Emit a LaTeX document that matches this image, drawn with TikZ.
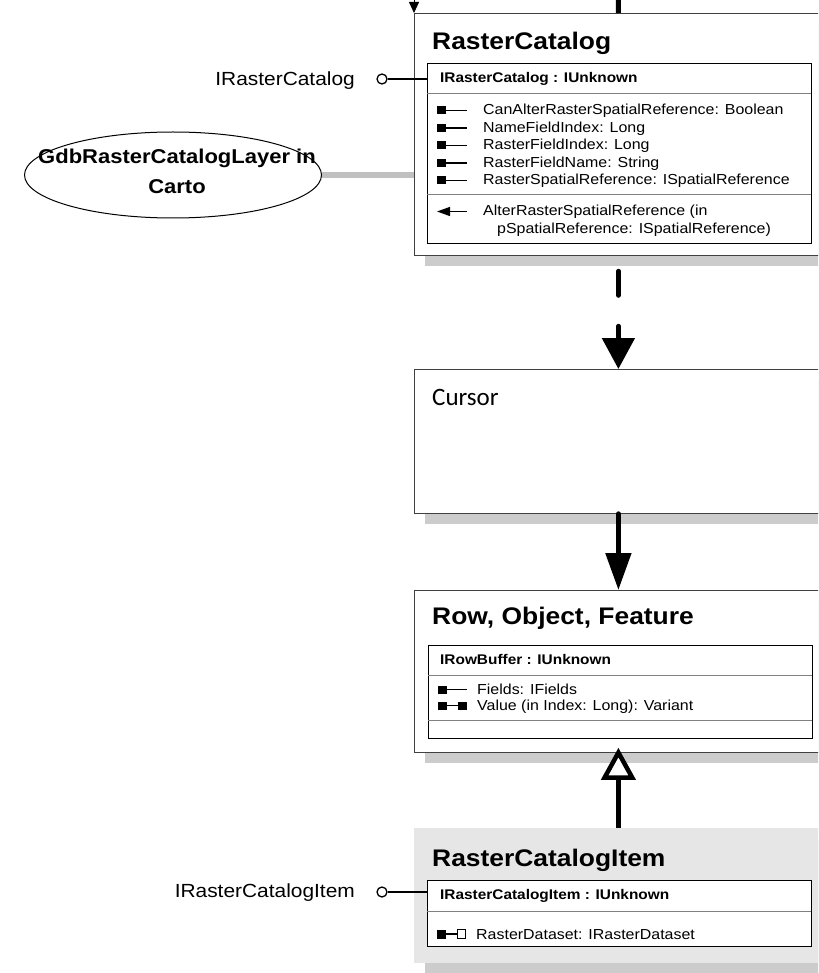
\documentclass[tikz,border=0pt]{standalone}
\usepackage{fontspec}
\setmainfont{Liberation Sans}[FakeStretch=1.1]
\newfontfamily\carlito{Carlito}
\usetikzlibrary{arrows.meta,shapes.geometric,shadows}
\definecolor{shadowgray}{RGB}{204,204,204}
\definecolor{itemgray}{RGB}{230,230,230}
\definecolor{linkgray}{RGB}{192,192,192}
\definecolor{sepgray}{RGB}{128,128,128}

\begin{document}
\begin{tikzpicture}[x=1pt,y=-1pt,
  classbox/.style={draw=black!75, line width=0.8pt, fill=white, anchor=north west,
    minimum width=408pt, inner sep=0pt,
    drop shadow={shadow xshift=11pt, shadow yshift=-11pt, fill=shadowgray, opacity=1}},
  ifcbox/.style={draw=black, line width=1.4pt, fill=white, anchor=north west,
    minimum width=384pt, inner sep=0pt},
  title/.style={font=\bfseries\fontsize{24}{28}\selectfont, anchor=base west, inner sep=0pt},
  ifchead/.style={font=\bfseries\fontsize{14}{16}\selectfont, anchor=base west, inner sep=0pt},
  member/.style={font=\fontsize{14.5}{16}\selectfont, anchor=base west, inner sep=0pt},
  lollylabel/.style={font=\fontsize{19}{22}\selectfont, anchor=base east, inner sep=0pt},
  lolly/.style={circle, draw, line width=1.3pt, minimum size=10pt, inner sep=0pt, fill=white},
  sep/.style={draw=sepgray, line width=1pt},
  icon/.style={line width=1.3pt},
  flow/.style={line width=5pt, line cap=round},
]
  \useasboundingbox (0,0) rectangle (818,973);
  \clip (0,0) rectangle (818,973);

  % Class boxes
  \node[classbox, minimum height=242pt] (rc) at (414,13) {};
  \node[classbox, minimum height=144pt] (cur) at (414,369) {};
  \node[classbox, minimum height=162pt] (row) at (414,590) {};
  \node[classbox, draw=none, fill=itemgray, minimum height=135pt] (item) at (414,828) {};

  % RasterCatalog
  \node[title] (rctitle) at (432,50) {RasterCatalog};
  \node[ifcbox, minimum height=180pt] (rcif) at (427,63) {};
  \draw[sep] (427,94) -- (811,94);
  \draw[sep] (427,195) -- (811,195);
  \node[ifchead] (rchead) at (440,83) {IRasterCatalog : IUnknown};
  \fill (437,106.5) rectangle (446,114.5); \draw[icon] (446,110.5) -- (467,110.5);
  \fill (437,124) rectangle (446,132); \draw[icon] (446,128) -- (467,128);
  \fill (437,141.5) rectangle (446,149.5); \draw[icon] (446,145.5) -- (467,145.5);
  \fill (437,159) rectangle (446,167); \draw[icon] (446,163) -- (467,163);
  \fill (437,176.5) rectangle (446,184.5); \draw[icon] (446,180.5) -- (467,180.5);
  \node[member] (m1) at (483,115) {CanAlterRasterSpatialReference: Boolean};
  \node[member] (m2) at (483,132.5) {NameFieldIndex: Long};
  \node[member] (m3) at (483,150) {RasterFieldIndex: Long};
  \node[member] (m4) at (483,167.5) {RasterFieldName: String};
  \node[member] (m5) at (483,185) {RasterSpatialReference: ISpatialReference};
  \draw[icon, -{Triangle[width=9pt,length=13pt]}] (467,211.5) -- (437,211.5);
  \node[member] (m6) at (483,216) {AlterRasterSpatialReference (in};
  \node[member] (m7) at (497,233.5) {pSpatialReference: ISpatialReference)};

  \node[lollylabel] (rclab) at (355,86) {IRasterCatalog};
  \node[lolly] (rcdot) at (382,79) {};
  \draw[icon] (rcdot) -- (rcdot -| rcif.west);

  % layer in Carto
  \node[draw, ellipse, line width=1pt, minimum width=297pt, minimum height=86pt,
    inner sep=0pt] (layer) at (173,175) {};
  \node[font=\bfseries\fontsize{20}{30}\selectfont, align=center, anchor=base,
    inner sep=0pt] (layertext) at (177,194) {GdbRasterCatalogLayer in\\Carto};
  \draw[linkgray, line width=6pt] (layer.east) -- (layer.east -| rc.west);

  % Cursor
  \node[font=\carlito\fontsize{25}{30}\selectfont, anchor=base west, inner sep=0pt]
    (curtitle) at (432,405) {Cursor};

  % Row, Object, Feature
  \node[title] (rowtitle) at (432,624) {Row, Object, Feature};
  \node[ifcbox, minimum height=93pt] (rowif) at (428,645) {};
  \draw[sep] (428,675) -- (812,675);
  \draw[sep] (428,720) -- (812,720);
  \node[ifchead] (rowhead) at (440,664) {IRowBuffer : IUnknown};
  \fill (438,685.5) rectangle (447,693.5); \draw[icon] (447,689.5) -- (467,689.5);
  \fill (438,701.5) rectangle (447,709.5); \draw[icon] (447,705.5) -- (458,705.5);
  \fill (458,701.5) rectangle (467,709.5);
  \node[member] (f1) at (477,694) {Fields: IFields};
  \node[member] (f2) at (477,710) {Value (in Index: Long): Variant};

  % RasterCatalogItem
  \node[title] (itemtitle) at (432,866) {RasterCatalogItem};
  \node[ifcbox, minimum height=66pt] (itemif) at (427,880) {};
  \draw[sep] (427,911) -- (811,911);
  \node[ifchead] (itemhead) at (440,899) {IRasterCatalogItem : IUnknown};
  \fill (437,929.5) rectangle (446,938.5); \draw[icon] (446,934) -- (457,934);
  \draw[line width=1pt, fill=white] (457.5,929.5) rectangle (465.5,938.5);
  \node[member] (d1) at (476,939) {RasterDataset: IRasterDataset};

  \node[lollylabel] (itemlab) at (355,897) {IRasterCatalogItem};
  \node[lolly] (itemdot) at (382,892) {};
  \draw[icon] (itemdot) -- (itemdot -| itemif.west);

  % Connectors
  \coordinate (topin) at (618,-30);
  \coordinate (cornerin) at (414,-30);
  \draw[line width=5pt] (topin) -- (rc.north);
  \draw[line width=0.8pt, -{Triangle[width=10pt,length=11pt]}] (cornerin) -- (rc.north west);
  \draw[flow, dash pattern=on 24pt off 31pt, dash phase=39.5pt,
    -{Triangle[width=32pt,length=31pt]}] (rc.south) -- (cur.north);
  \draw[flow, -{Triangle[width=25pt,length=37pt]}] (cur.south) -- (row.north);
  \draw[line width=5pt, shorten >=-5pt,
    -{Triangle[open, width=34pt, length=32pt, line width=4.5pt, fill=white]}]
    (item.north) -- (row.south);
\end{tikzpicture}
\end{document}
